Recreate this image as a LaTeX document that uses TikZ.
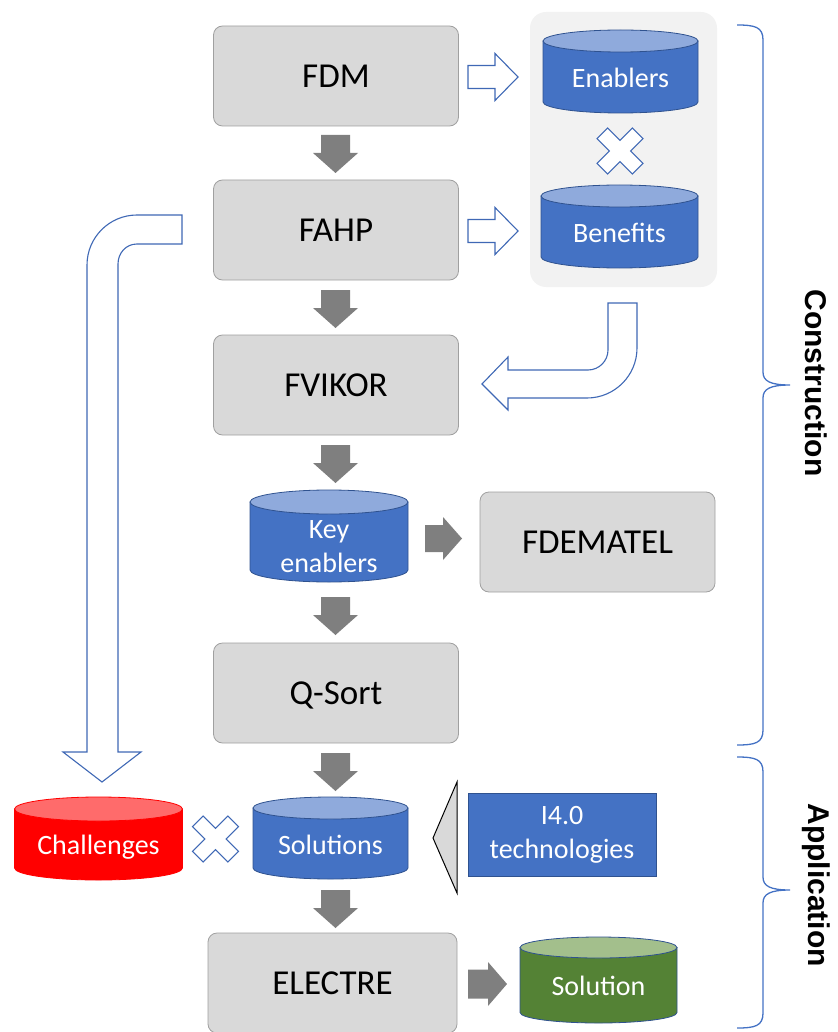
\documentclass[tikz,border=0pt]{standalone}
\usepackage{fontspec}
\setmainfont{Carlito}
\newfontfamily\headfont{Liberation Sans}
\definecolor{boxgray}{HTML}{D9D9D9}
\definecolor{boxline}{HTML}{A0A0A0}
\definecolor{arrgray}{HTML}{7F7F7F}
\definecolor{cylblue}{HTML}{4472C4}
\definecolor{cyltop}{HTML}{8FAADC}
\definecolor{cylline}{HTML}{2F528F}
\definecolor{grpbg}{HTML}{F2F2F2}
\definecolor{redbody}{HTML}{FF0000}
\definecolor{redtop}{HTML}{FF6B6B}
\definecolor{grnbody}{HTML}{548235}
\definecolor{grntop}{HTML}{A3BF8C}
\definecolor{hollowline}{HTML}{3F68B5}
\definecolor{bracecol}{HTML}{4472C4}
\tikzset{
  procbox/.style={draw=boxline, fill=boxgray, rounded corners=9pt, minimum width=245pt,
    minimum height=100pt, font=\fontsize{35}{42}\selectfont, inner sep=0pt, line width=0.8pt,
    text height=22.5pt, text depth=0pt},
  cyllabel/.style={text=white, font=\fontsize{28}{34}\selectfont, align=center, inner sep=0pt},
  oneline/.style={text height=18pt, text depth=0pt},
  grayarrow/.style={fill=arrgray, draw=none},
  hollow/.style={fill=white, draw=hollowline, line width=1.1pt, line join=miter},
  bracestyle/.style={draw=bracecol, line width=1.3pt},
  sidelabel/.style={font=\headfont\bfseries\fontsize{30}{34}\selectfont, rotate=-90, inner sep=0pt},
}
% cylinder: cx, top y, bottom y, half width, ry, body, top, line
\newcommand\cylinderat[8]{%
  \path[fill=#6, draw=#8, line width=0.8pt] (#1-#4,#2+#5) -- (#1-#4,#3-#5)
    arc[start angle=180, end angle=0, x radius=#4, y radius=#5] -- (#1+#4,#2+#5) -- cycle;
  \path[fill=#7, draw=#8, line width=0.8pt] (#1,#2+#5) ellipse[x radius=#4, y radius=#5];
}
% block arrow: style, x, y, rotation, length, shaft width, head width, head length
\newcommand\barrow[8]{%
  \path[#1, shift={(#2,#3)}, rotate=#4] (0,-#6/2) -- (#5-#8,-#6/2) -- (#5-#8,-#7/2) -- (#5,0)
    -- (#5-#8,#7/2) -- (#5-#8,#6/2) -- (0,#6/2) -- cycle;
}
\newcommand\xcross[2]{%
  \path[hollow, shift={(#1,#2)}, rotate=45] (-7.5,-25) -- (7.5,-25) -- (7.5,-7.5) -- (25,-7.5)
    -- (25,7.5) -- (7.5,7.5) -- (7.5,25) -- (-7.5,25) -- (-7.5,7.5) -- (-25,7.5) -- (-25,-7.5)
    -- (-7.5,-7.5) -- cycle;
}
\begin{document}
\begin{tikzpicture}[x=1pt, y=-1pt]
\useasboundingbox (0,0) rectangle (837,1032);

% group background
\node[fill=grpbg, rounded corners=16pt, minimum width=187pt, minimum height=275pt, inner sep=0pt] (grp) at (623.5,149.5) {};

% process boxes
\node[procbox] (fdm) at (336,76) {FDM};
\node[procbox] (fahp) at (336,230) {FAHP};
\node[procbox] (fvikor) at (336,385) {FVIKOR};
\node[procbox, minimum width=235pt] (fdematel) at (597.5,542) {FDEMATEL};
\node[procbox] (qsort) at (336,693) {Q-Sort};
\node[procbox, minimum width=249pt] (electre) at (332.5,983) {ELECTRE};

% cylinders
\cylinderat{620.5}{30}{113}{77.5}{11}{cylblue}{cyltop}{cylline}
\node[cyllabel, oneline] (enab) at (620.5,79) {Enablers};
\cylinderat{619.5}{185}{268}{78.5}{11}{cylblue}{cyltop}{cylline}
\node[cyllabel, oneline] (bene) at (619.5,233) {Benefits};
\cylinderat{329}{490}{582}{79}{12}{cylblue}{cyltop}{cylline}
\node[cyllabel] (keyen) at (329,547) {Key\\enablers};
\cylinderat{330.5}{797}{879}{77.5}{11}{cylblue}{cyltop}{cylline}
\node[cyllabel, oneline] (sols) at (330.5,845) {Solutions};
\cylinderat{98.5}{797}{880}{84}{12}{redbody}{redtop}{redbody}
\node[cyllabel, oneline] (chal) at (98.5,845) {Challenges};
\cylinderat{598.5}{937}{1023}{78.5}{10.5}{grnbody}{grntop}{cylline}
\node[cyllabel, oneline] (sol) at (598.5,986) {Solution};

% I4.0 technologies
\node[fill=cylblue, draw=cylline, line width=0.8pt, minimum width=188pt, minimum height=83pt, cyllabel] (tech) at (562,834.5) {I4.0\\technologies};
\path[fill=boxgray, draw=black, line width=1pt, line join=miter] (457,782) -- (433,838) -- (457,893) -- cycle;

% gray flow arrows
\barrow{grayarrow}{335.5}{135}{-90}{38}{29}{45}{20}
\barrow{grayarrow}{335.5}{290}{-90}{38}{29}{45}{20}
\barrow{grayarrow}{335.5}{445}{-90}{38}{29}{45}{20}
\barrow{grayarrow}{335.5}{597}{-90}{38}{29}{45}{20}
\barrow{grayarrow}{335.5}{753}{-90}{38}{29}{45}{20}
\barrow{grayarrow}{335.5}{890}{-90}{38}{29}{45}{20}
\barrow{grayarrow}{425}{538.5}{0}{37}{27}{43}{19}
\barrow{grayarrow}{468}{984}{0}{39}{29}{44}{19}

% hollow arrows
\barrow{hollow}{468}{77}{0}{50}{23}{47}{23}
\barrow{hollow}{468}{231}{0}{50}{23}{47}{23}

% crosses
\xcross{620}{151}
\xcross{215.5}{839}

% bent arrow FAHP -> Challenges
\path[hollow] (182,215) -- (137,215) .. controls (109.4,215) and (87,237.4) .. (87,265)
  -- (87,752) -- (63,752) -- (102,782) -- (141,752) -- (118,752) -- (118,264)
  .. controls (118,253) and (126,244) .. (137,244) -- (182,244) -- cycle;

% bent arrow Benefits -> FVIKOR
\path[hollow] (608,303) -- (637,303) -- (637,348) .. controls (637,375.6) and (614.6,398) .. (587,398)
  -- (508,398) -- (508,410) -- (482,384) -- (508,357) -- (508,370) -- (588,370)
  .. controls (599,370) and (608,361) .. (608,350) -- cycle;

% braces
\path[bracestyle] (737,25) .. controls (755,25) and (763,27) .. (763,40) -- (763,372)
  .. controls (763,381) and (770,385) .. (790,385) .. controls (770,385) and (763,389) .. (763,398)
  -- (763,730) .. controls (763,743) and (755,745) .. (737,745);
\path[bracestyle] (737,757) .. controls (755,757) and (763,759) .. (763,772) -- (763,877)
  .. controls (763,886) and (770,890) .. (790,890) .. controls (770,890) and (763,894) .. (763,903)
  -- (763,1013) .. controls (763,1026) and (755,1028) .. (737,1028);

\node[sidelabel] (constr) at (816,383) {Construction};
\node[sidelabel] (appl) at (816,885) {Application};
\end{tikzpicture}
\end{document}
